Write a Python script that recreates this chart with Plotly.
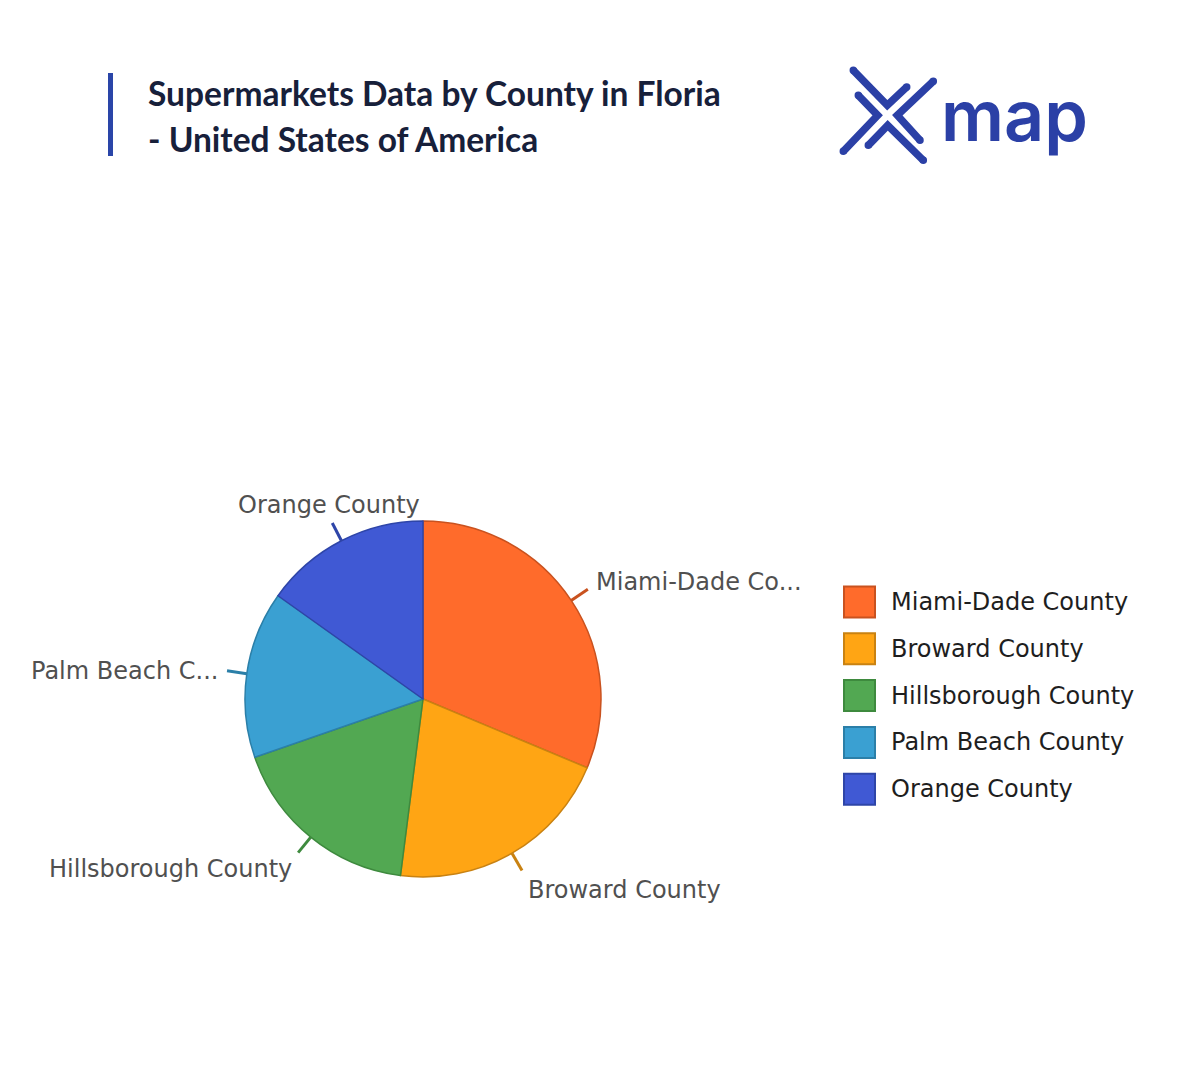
import math
import plotly.graph_objects as go

W, H = 1200, 1080

# ---- data ----
counties = ["Miami-Dade County", "Broward County", "Hillsborough County",
            "Palm Beach County", "Orange County"]
pie_labels = ["Miami-Dade Co...", "Broward County", "Hillsborough County",
              "Palm Beach C...", "Orange County"]
supermarkets = [62, 41, 35, 30, 30]
fill_colors = ["#FF6B2B", "#FFA514", "#52A852", "#3AA0D2", "#4059D4"]
edge_colors = ["#C9521F", "#C98212", "#3E8A3E", "#2B7FA8", "#2E45A8"]
title_lines = ["Supermarkets Data by County in Floria", "- United States of America"]


def px(x):
    return x / W


def py(y):
    return 1 - y / H


CX, CY, R = 423, 699, 178

fig = go.Figure(go.Pie(
    labels=counties, values=supermarkets, sort=False, direction="clockwise",
    rotation=0, textinfo="none", showlegend=False,
    hoverinfo="label+value+percent",
    marker=dict(colors=fill_colors, line=dict(color=edge_colors, width=1.5)),
    domain=dict(x=[px(CX - R), px(CX + R)], y=[py(CY + R), py(CY - R)]),
))

shapes = []
annotations = []

# ---- connector ticks and outside labels ----
total = sum(supermarkets)
cum = 0
for lab, v, ec in zip(pie_labels, supermarkets, edge_colors):
    mid = (cum + v / 2) / total * 2 * math.pi
    cum += v
    dx, dy = math.sin(mid), -math.cos(mid)
    shapes.append(dict(type="line", xref="paper", yref="paper",
                       x0=px(CX + R * dx), y0=py(CY + R * dy),
                       x1=px(CX + (R + 20) * dx), y1=py(CY + (R + 20) * dy),
                       line=dict(color=ec, width=3)))
    lx, ly = CX + (R + 27) * dx, CY + (R + 27) * dy
    if abs(dx) < 0.46:
        xa = "center"
    else:
        xa = "left" if dx > 0 else "right"
    ly += 16 * (1 if dy > 0 else -1) / (1 + dx * dx / (dy * dy + 1e-9)) + 1
    annotations.append(dict(text=lab, x=px(lx), y=py(ly), xref="paper", yref="paper",
                            xanchor=xa, yanchor="middle", showarrow=False,
                            font=dict(family="DejaVu Sans", size=24, color="#505050")))

# ---- custom legend ----
for i, (name, fc, ec) in enumerate(zip(counties, fill_colors, edge_colors)):
    cy = 602 + i * 46.8
    shapes.append(dict(type="rect", xref="paper", yref="paper",
                       x0=px(844), x1=px(875), y0=py(cy + 15.5), y1=py(cy - 15.5),
                       fillcolor=fc, line=dict(color=ec, width=2)))
    annotations.append(dict(text=name, x=px(889), y=py(cy), xref="paper", yref="paper",
                            xanchor="left", yanchor="middle", showarrow=False,
                            font=dict(family="DejaVu Sans", size=24, color="#1e1e1e")))

# ---- title ----
shapes.append(dict(type="rect", xref="paper", yref="paper",
                   x0=px(108), x1=px(113), y0=py(156), y1=py(73),
                   fillcolor="#2A45A8", line=dict(width=0)))
for t, yc in zip(title_lines, [93, 139]):
    annotations.append(dict(text=t, x=px(146), y=py(yc), xref="paper", yref="paper",
                            xanchor="left", yanchor="middle", showarrow=False,
                            font=dict(family="Lato", size=33.5, color="#17203A", weight=700)))

# ---- logo ----
logo_color = "#2B40A6"
logo_strokes = [
    [(853.3, 70.3), (887.3, 105.3), (906.7, 87.0)],
    [(933.3, 81.3), (897.3, 115.3), (920.0, 140.3)],
    [(868.3, 145.3), (887.7, 125.3), (923.3, 160.3)],
    [(858.3, 95.3), (877.7, 115.3), (843.3, 151.3)],
]
for pts in logo_strokes:
    path = "M " + " L ".join(f"{px(x)},{py(y)}" for x, y in pts)
    shapes.append(dict(type="path", xref="paper", yref="paper", path=path,
                       line=dict(color=logo_color, width=7.5)))
    for x, y in (pts[0], pts[-1]):
        shapes.append(dict(type="circle", xref="paper", yref="paper",
                           x0=px(x - 3.75), x1=px(x + 3.75), y0=py(y + 3.75), y1=py(y - 3.75),
                           fillcolor=logo_color, line=dict(width=0)))
annotations.append(dict(text="map", x=px(939), y=py(116), xref="paper", yref="paper",
                        xanchor="left", yanchor="middle", showarrow=False,
                        font=dict(family="Inter", size=70, color=logo_color, weight=600)))

fig.update_layout(
    width=W, height=H, margin=dict(l=0, r=0, t=0, b=0),
    paper_bgcolor="white", plot_bgcolor="white",
    shapes=shapes, annotations=annotations,
)

fig.write_html("out.html")
